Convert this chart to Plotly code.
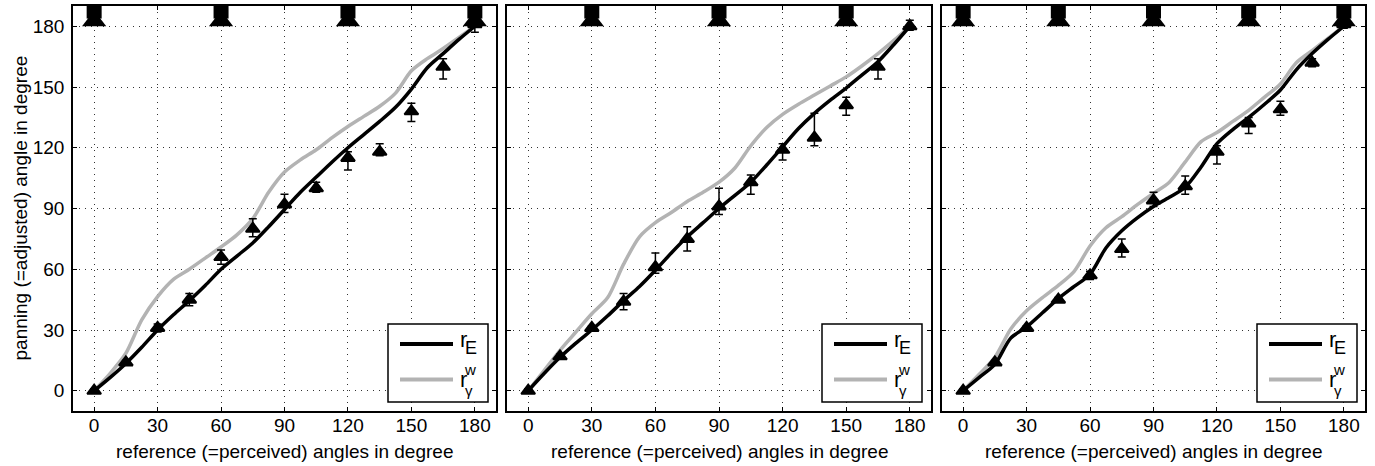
import plotly.graph_objects as go

# ---------------- data ----------------
angles = [0, 15, 30, 45, 60, 75, 90, 105, 120, 135, 150, 165, 180]

p1_mean = [0, 14, 31, 45, 66, 80, 92, 100, 115, 118, 138, 160, 181]
p1_up = [1, 1, 2, 3, 3.5, 5, 5, 3, 3, 4, 4, 4, 2]
p1_dn = [1, 1, 2, 3, 3.5, 4, 4, 2, 6, 2, 5, 6, 4]

p2_mean = [0, 17, 31, 44, 61, 75, 91, 103, 119, 125, 141, 160, 180]
p2_up = [1, 1, 1, 4, 7, 6, 9, 3.5, 3, 12, 4, 4, 3]
p2_dn = [1, 1, 1, 4, 3, 6, 4, 6, 5, 4, 5, 6, 2]

p3_mean = [0, 14, 31, 45, 57, 70, 94, 101, 118, 132, 139, 162, 181]
p3_up = [1, 1, 1, 1, 2, 5, 4, 5, 3, 3, 4, 2, 2]
p3_dn = [1, 1, 1, 1, 2, 4, 3, 4, 6, 5, 3, 2, 2]

curve_x = [0, 7.5, 15, 22.5, 30, 37.5, 45, 52.5, 60, 67.5, 75, 82.5, 90, 97.5,
           105, 112.5, 120, 127.5, 135, 142.5, 150, 157.5, 165, 172.5, 180]

p1_rE = [0, 6.5, 13.5, 21.5, 30, 37.5, 44.5, 52, 60, 66.5, 73, 81, 89.5, 98,
         105.5, 113, 120, 126.5, 133, 140, 149, 159.5, 166.5, 173.5, 180]
p1_rg = [0, 8.5, 18.5, 35, 46.5, 55, 60, 65.5, 71, 77, 85, 98, 108, 114,
         119, 125, 130.5, 135.5, 140.5, 147, 158, 164, 169, 174.5, 180]

p2_rE = [0, 8.5, 16.5, 23.5, 30, 37, 44.5, 51.5, 59.5, 68, 76, 83, 90, 96.5,
         103, 111.5, 120.5, 129.5, 137, 143.5, 149.5, 156, 162.5, 171, 180]
p2_rg = [0, 10, 20, 29, 38, 46, 62.5, 76, 83, 88, 93.5, 98, 103, 110,
         121, 130, 136.5, 141.5, 146, 150.5, 155, 160.5, 166.5, 173, 180]

p3_rE = [0, 6.5, 13, 26, 31.5, 38.5, 45.5, 51.5, 57.5, 70.5, 79, 85.5, 91, 95.5,
         100.5, 110.5, 122, 129, 135, 141.5, 148.5, 158.5, 166.5, 173.5, 180]
p3_rg = [0, 8, 16.5, 30.5, 39.5, 46, 52, 59, 71.5, 80.5, 86, 92, 97.5, 103,
         113, 123, 127.5, 133, 138.5, 145, 151.5, 162, 168, 174, 180]

speakers = [[0, 60, 120, 180], [30, 90, 150], [0, 45, 90, 135, 180]]
speaker_box_level = 187.5
speaker_tri_level = 182.6

tick_vals = [0, 30, 60, 90, 120, 150, 180]
tick_text = ["0", "30", "60", "90", "120", "150", "180"]

panels = [
    (p1_mean, p1_up, p1_dn, p1_rE, p1_rg),
    (p2_mean, p2_up, p2_dn, p2_rE, p2_rg),
    (p3_mean, p3_up, p3_dn, p3_rE, p3_rg),
]

# ---------------- figure ----------------
FONT = "Liberation Sans, Arial, Helvetica, sans-serif"
W, H = 1375, 466
ML, MR, MT, MB = 73, 10, 6, 55
PW = W - ML - MR
PH = H - MT - MB
px_domains = [(73, 496), (507, 931), (942, 1365)]
domains = [((a - ML) / PW, (b - ML) / PW) for a, b in px_domains]

GRAY = "#b3b3b3"
fig = go.Figure()


def yd(py):
    return (MT + PH - py) / PH


def xd(px, i):
    a, b = px_domains[i]
    return (px - a) / (b - a)


for i, (mean, up, dn, rE, rg) in enumerate(panels):
    sfx = "" if i == 0 else str(i + 1)
    xa, ya = "x" + sfx, "y" + sfx
    fig.add_trace(go.Scatter(x=curve_x, y=rg, mode="lines", xaxis=xa, yaxis=ya,
                             line=dict(color=GRAY, width=3.5, shape="spline", smoothing=0.8),
                             showlegend=False, hoverinfo="skip"))
    fig.add_trace(go.Scatter(x=curve_x, y=rE, mode="lines", xaxis=xa, yaxis=ya,
                             line=dict(color="black", width=3.5, shape="spline", smoothing=0.8),
                             showlegend=False, hoverinfo="skip"))
    fig.add_trace(go.Scatter(x=angles, y=mean, mode="markers", xaxis=xa, yaxis=ya,
                             marker=dict(symbol="triangle-up", size=12, color="black",
                                         line=dict(color="black", width=2)),
                             error_y=dict(type="data", symmetric=False, array=up, arrayminus=dn,
                                          color="black", thickness=1.5, width=4),
                             showlegend=False))
    spk = speakers[i]
    fig.add_trace(go.Scatter(x=spk, y=[speaker_box_level] * len(spk), mode="markers",
                             xaxis=xa, yaxis=ya,
                             marker=dict(symbol="square", size=15, color="black"),
                             showlegend=False))
    fig.add_trace(go.Scatter(x=spk, y=[speaker_tri_level] * len(spk), mode="markers",
                             xaxis=xa, yaxis=ya,
                             marker=dict(symbol="triangle-up", size=21, color="black",
                                         line=dict(color="black", width=0)),
                             showlegend=False))

    axis_common = dict(range=[-10, 190], tickvals=tick_vals, ticktext=tick_text,
                       ticks="inside", ticklen=4, tickwidth=1, tickcolor="black",
                       showline=True, linecolor="black", linewidth=1.5, mirror="ticks",
                       showgrid=True, gridcolor="#333333", gridwidth=1, griddash="1px,5px",
                       zeroline=False, tickfont=dict(family=FONT, size=19, color="black"),
                       fixedrange=True, automargin=False)
    fig.layout["xaxis" + sfx] = dict(axis_common, domain=list(domains[i]), anchor=ya,
                                     ticklabelstandoff=-4)
    fig.layout["yaxis" + sfx] = dict(axis_common, domain=[0, 1], anchor=xa,
                                     showticklabels=(i == 0), ticklabelstandoff=3)

    # x-axis title (annotation under each panel)
    fig.add_annotation(xref=xa + " domain", yref="paper", x=0.5, y=yd(451),
                       text="reference (=perceived) angles in degree", showarrow=False,
                       xanchor="center", yanchor="middle",
                       font=dict(family=FONT, size=19, color="black"))

    # legend box (manual, in axis-domain coordinates)
    xref, yref = xa + " domain", ya + " domain"
    off = px_domains[i][0] - px_domains[2][0]
    fig.add_shape(type="rect", xref=xref, yref=yref, x0=xd(1257 + off, i), x1=xd(1357 + off, i),
                  y0=yd(402), y1=yd(324),
                  line=dict(color="black", width=1.5), fillcolor="white", layer="above")
    fig.add_shape(type="line", xref=xref, yref=yref, x0=xd(1269 + off, i), x1=xd(1322 + off, i),
                  y0=yd(344), y1=yd(344),
                  line=dict(color="black", width=4), layer="above")
    fig.add_shape(type="line", xref=xref, yref=yref, x0=xd(1269 + off, i), x1=xd(1322 + off, i),
                  y0=yd(379.5), y1=yd(379.5),
                  line=dict(color=GRAY, width=4), layer="above")
    for txt, px_, py_, fs in [("r", 1328, 339, 22), ("E", 1333, 347.5, 18),
                              ("r", 1328, 379.5, 22), ("w", 1332, 369.5, 15),
                              ("γ", 1333, 390.5, 15)]:
        fig.add_annotation(xref=xref, yref=yref, x=xd(px_ + off, i), y=yd(py_), text=txt,
                           showarrow=False, xanchor="left", yanchor="middle",
                           borderpad=0, font=dict(family=FONT, size=fs, color="black"))

# y-axis title
fig.add_annotation(xref="paper", yref="paper", x=-(ML - 20) / PW, y=0.5,
                   text="panning (=adjusted) angle in degree", showarrow=False, textangle=-90,
                   xanchor="center", yanchor="middle",
                   font=dict(family=FONT, size=19, color="black"))

fig.update_layout(width=W, height=H, margin=dict(l=ML, r=MR, t=MT, b=MB),
                  paper_bgcolor="white", plot_bgcolor="white", showlegend=False,
                  font=dict(family=FONT, size=19, color="black"))

fig.write_html("out.html", config={"displayModeBar": False},
               post_script="document.body.style.margin='0px';")
